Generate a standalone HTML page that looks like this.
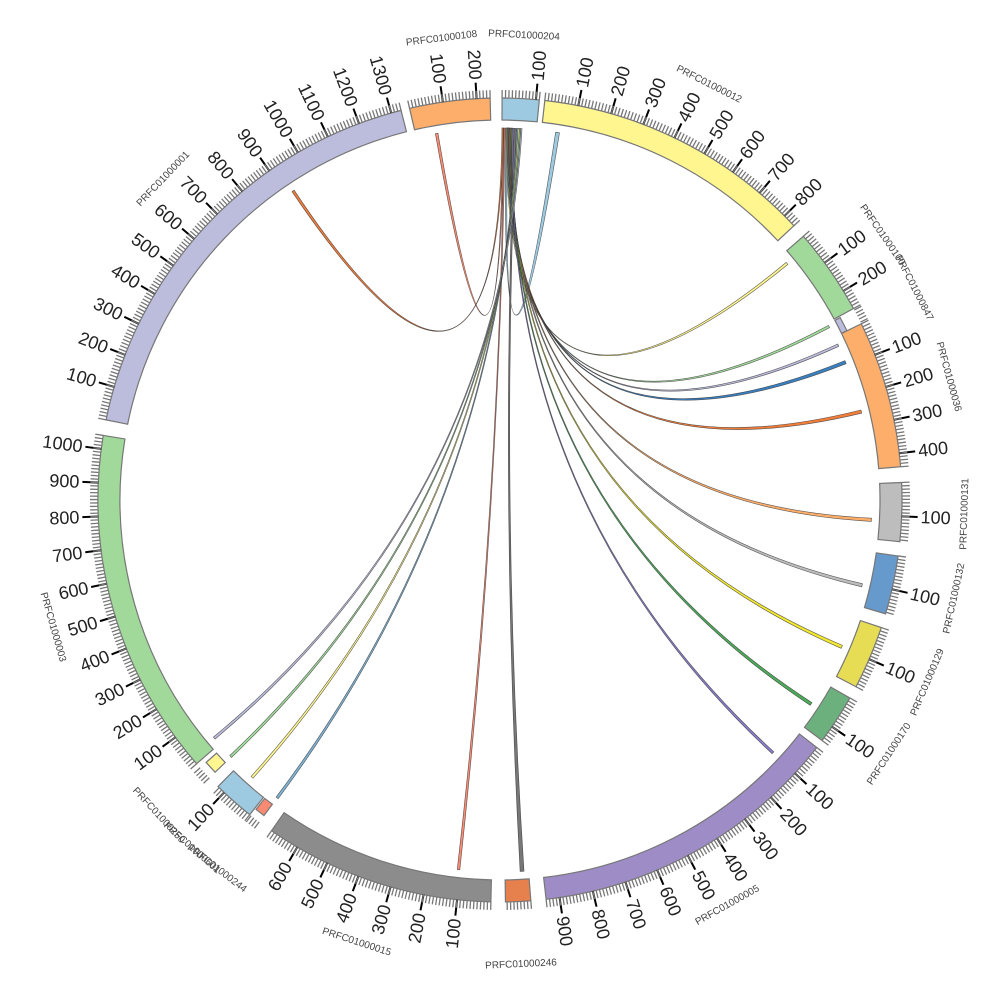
<!DOCTYPE html>
<html><head><meta charset="utf-8"><style>
html,body{margin:0;padding:0;background:#fff;}
svg{display:block;font-family:"Liberation Sans","DejaVu Sans",sans-serif;}
</style></head><body>
<svg id="s" width="1000" height="1000" viewBox="0 0 1000 1000" xmlns="http://www.w3.org/2000/svg"></svg>
<script>
var cx=500,cy=500,R1=380,R2=402,RL=372,UPD=20.7;
function P(t,r){var a=t*Math.PI/180;return [cx+r*Math.sin(a),cy-r*Math.cos(a)];}
function f(p){return p[0].toFixed(2)+" "+p[1].toFixed(2);}
var segs=[
["PRFC01000204",0.3,110,"#9ecae1"],
["PRFC01000012",6.4,840,"#fff68f"],
["PRFC01000100",49,260,"#a1d99b"],
["PRFC01000847",61.8,45,"#bcbddc",6],
["PRFC01000036",64,440,"#fdae6b"],
["PRFC01000131",87.5,175,"#bdbdbd"],
["PRFC01000132",98,175,"#6699cc"],
["PRFC01000129",108.5,190,"#e7dd55"],
["PRFC01000170",119.5,150,"#6cb07e"],
["PRFC01000005",128,940,"#9e8cc6"],
["PRFC01000246",175.6,75,"#e6804d"],
["PRFC01000015",181.3,690,"#8c8c8c"],
["PRFC01000244",216.8,30,"#fb8a72",14],
["PRFC01000601",218.5,125,"#9ecae1"],
["PRFC01000250",226.3,40,"#fff68f",14],
["PRFC01000003",229,1040,"#a1d99b"],
["PRFC01000001",281.5,1330,"#bcbddc"],
["PRFC01000108",347,240,"#fdae6b"]
];
var o="";
var links=[
[0.9,1.2,8.6,9.2,"#9ecae1"],
[1.0,1.2,50.3,50.7,"#fff68f"],
[1.1,1.3,62.0,62.4,"#a1d99b"],
[1.2,1.4,65.2,65.6,"#bcbddc"],
[1.3,1.5,68.0,68.5,"#3a7fc0"],
[1.4,1.6,76.0,76.5,"#f07d3a"],
[1.5,1.7,92.8,93.3,"#fdae6b"],
[1.6,1.8,103.0,103.5,"#bdbdbd"],
[1.7,1.9,113.0,113.5,"#f2e830"],
[1.8,2.0,123.0,123.5,"#4daa5a"],
[1.9,2.1,132.6,133.0,"#8a7cc8"],
[2.2,2.5,176.3,176.9,"#777777"],
[0.6,0.8,186.2,186.6,"#fb8a72"],
[2.6,2.8,216.6,217.0,"#7fb3d5"],
[2.8,3.0,221.6,222.0,"#fff68f"],
[3.0,3.2,226.2,226.6,"#a1d99b"],
[3.2,3.4,230.0,230.4,"#bcbddc"],
[0.4,0.6,350.0,350.4,"#fb8a72"],
[0.3,0.5,326.0,326.4,"#f07d3a"]
];
links.forEach(function(l){
 var a=P(l[0],RL),b=P(l[1],RL),c=P(l[2],RL),d=P(l[3],RL);
 o+='<path d="M'+f(a)+' A'+RL+' '+RL+' 0 0 1 '+f(b)+' Q'+cx+' '+cy+' '+f(c)+' A'+RL+' '+RL+' 0 0 1 '+f(d)+' Q'+cx+' '+cy+' '+f(a)+'Z" fill="'+l[4]+'" stroke="#333" stroke-width="0.6" stroke-opacity="0.8"/>';
});
segs.forEach(function(s){
 var t0=s[1],len=s[2],t1=t0+len/UPD,r2=s[4]?R1+s[4]:R2;
 var big=(t1-t0)>180?1:0;
 o+='<path d="M'+f(P(t0,R1))+' A'+R1+' '+R1+' 0 '+big+' 1 '+f(P(t1,R1))+' L'+f(P(t1,r2))+' A'+r2+' '+r2+' 0 '+big+' 0 '+f(P(t0,r2))+'Z" fill="'+s[3]+'" stroke="#777" stroke-width="1.2"/>';
 for(var u=0;u<=len;u+=10){
  var t=t0+u/UPD;
  if(u%100==0&&u>0){
   var m1=P(t,R2),m2=P(t,R2+16);
   o+='<line x1="'+m1[0].toFixed(2)+'" y1="'+m1[1].toFixed(2)+'" x2="'+m2[0].toFixed(2)+'" y2="'+m2[1].toFixed(2)+'" stroke="#000" stroke-width="2"/>';
   var lp=P(t,R2+19),rot,anc;
   var tn=((t%360)+360)%360;
   if(tn<180){rot=tn-90;anc="start";}else{rot=tn-270;anc="end";}
   o+='<text x="'+lp[0].toFixed(2)+'" y="'+lp[1].toFixed(2)+'" font-size="18" fill="#222" text-anchor="'+anc+'" dominant-baseline="central" transform="rotate('+rot.toFixed(2)+' '+lp[0].toFixed(2)+' '+lp[1].toFixed(2)+')">'+u+'</text>';
  }
  var a=P(t,R2),b=P(t,R2+8);
  o+='<line x1="'+a[0].toFixed(2)+'" y1="'+a[1].toFixed(2)+'" x2="'+b[0].toFixed(2)+'" y2="'+b[1].toFixed(2)+'" stroke="#777" stroke-width="1.3"/>';
 }
 var tm=((t0+t1)/2+360)%360,np=P(tm,465),nr=(tm>90&&tm<270)?tm-180:tm;
 o+='<text x="'+np[0].toFixed(2)+'" y="'+np[1].toFixed(2)+'" font-size="10" fill="#444" text-anchor="middle" dominant-baseline="central" transform="rotate('+nr.toFixed(2)+' '+np[0].toFixed(2)+' '+np[1].toFixed(2)+')">'+s[0]+'</text>';
});
document.getElementById("s").innerHTML=o;
</script>
</body></html>
